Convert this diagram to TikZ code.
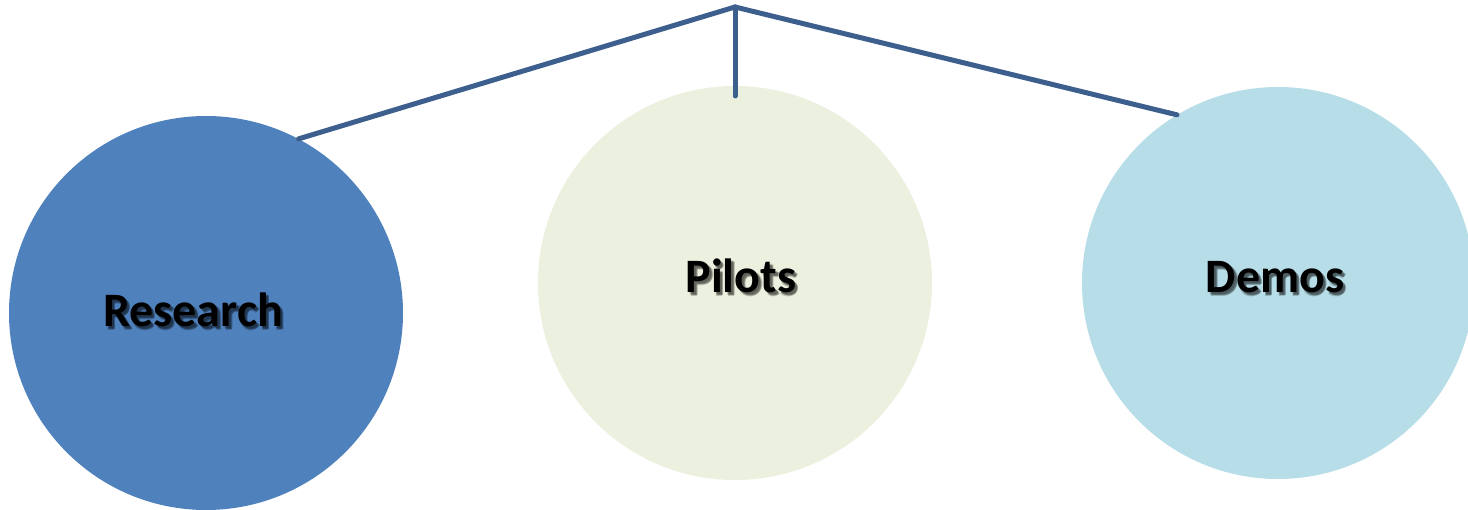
\documentclass[tikz,border=0pt]{standalone}
\usepackage{fontspec}
\setmainfont{Carlito}
\begin{document}
\begin{tikzpicture}[x=1pt,y=-1pt,
  bubble/.style={circle,draw=none,minimum size=394pt,inner sep=0pt},
  lbl/.style={font=\fontsize{48}{52}\selectfont\bfseries,text=black,inner sep=0pt,anchor=base},
  shd/.style={font=\fontsize{48}{52}\selectfont\bfseries,text=black,opacity=0.2,inner sep=0pt,anchor=base},
  link/.style={draw=linkblue,line width=5pt,line cap=round,line join=round}]
\definecolor{linkblue}{HTML}{3C5F8E}
\definecolor{resblue}{HTML}{4F81BD}
\definecolor{pilgreen}{HTML}{EBF1DE}
\definecolor{demblue}{HTML}{B7DEE8}
\useasboundingbox (0,0) rectangle (1468,510);
\fill[white] (0,0) rectangle (1468,510);
\node[bubble,fill=resblue] (research) at (206,313) {};
\node[bubble,fill=pilgreen] (pilots) at (735,283) {};
\node[bubble,fill=demblue,minimum size=392pt] (demos) at (1278,283) {};
\coordinate (apex) at (735,7);
\draw[link] (apex) -- (research.62);
\draw[link] (apex) -- (735,96);
\draw[link] (apex) -- (demos.121);
\foreach \dx/\dy in {2/2,3/3,2.5/3.5,3.5/2.5}{
  \node[shd] at (193+\dx,327+\dy) {Research};
  \node[shd] at (741+\dx,293+\dy) {Pilots};
  \node[shd] at (1275+\dx,293+\dy) {Demos};
}
\node[lbl] (tres) at (193,327) {Research};
\node[lbl] (tpil) at (741,293) {Pilots};
\node[lbl] (tdem) at (1275,293) {Demos};
\end{tikzpicture}
\end{document}
